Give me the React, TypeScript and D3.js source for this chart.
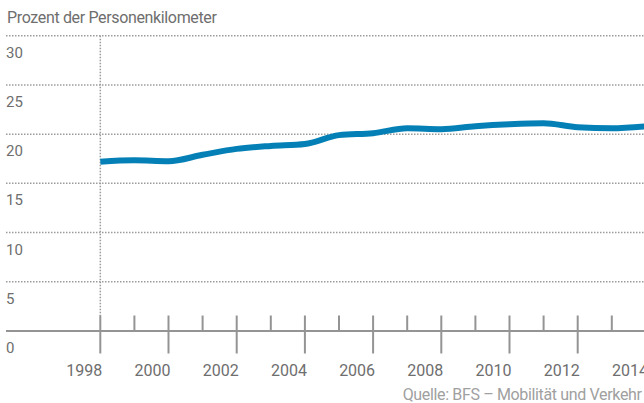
import React from "react";
import * as d3 from "d3";

// Anteil Personenkilometer, gelesen aus dem Bild
const years = [1998, 1999, 2000, 2001, 2002, 2003, 2004, 2005, 2006, 2007, 2008, 2009, 2010, 2011, 2012, 2013, 2014];
const values = [17.2, 17.35, 17.25, 17.9, 18.5, 18.8, 19.0, 19.9, 20.1, 20.6, 20.5, 20.8, 21.0, 21.1, 20.7, 20.6, 20.8];
const yTicks = [0, 5, 10, 15, 20, 25, 30];
const xLabelYears = [1998, 2000, 2002, 2004, 2006, 2008, 2010, 2012, 2014];

const W = 644;
const H = 403;
const FONT = "Roboto, 'Liberation Sans', sans-serif";

const App = () => {
  const x = d3.scaleLinear().domain([1998, 2014]).range([100.3, 100.3 + 16 * 34.1]);
  const y = d3.scaleLinear().domain([0, 30]).range([331, 35.7]);

  const data = years.map((yr, i) => ({ year: yr, value: values[i] }));
  const line = d3
    .line<{ year: number; value: number }>()
    .x((d) => x(d.year))
    .y((d) => y(d.value))
    .curve(d3.curveMonotoneX);

  const baseY = y(0);

  return (
    <svg
      width={W}
      height={H}
      style={{ position: "absolute", left: 0, top: 0, background: "#fff" }}
      fontFamily={FONT}
    >
      <text x={7} y={22.7} fontSize={16} fill="#6e6e6e" letterSpacing={-0.35}>
        Prozent der Personenkilometer
      </text>

      {/* gridlines */}
      {yTicks
        .filter((t) => t > 0)
        .map((t) => (
          <line
            key={"g" + t}
            x1={6}
            x2={W}
            y1={y(t)}
            y2={y(t)}
            stroke="#9c9c9c"
            strokeWidth={1.5}
            strokeDasharray="1.5,1.5"
          />
        ))}
      <line
        x1={x(1998)}
        x2={x(1998)}
        y1={y(30)}
        y2={baseY - 15}
        stroke="#9c9c9c"
        strokeWidth={1.5}
        strokeDasharray="1.5,1.5"
      />

      {yTicks.map((t) => (
        <text key={"yl" + t} x={6} y={y(t) + 22} fontSize={15} fill="#6e6e6e">
          {t}
        </text>
      ))}

      {/* x axis */}
      <line x1={6} x2={W} y1={baseY} y2={baseY} stroke="#949494" strokeWidth={2} />
      {years.map((yr) => {
        const even = yr % 2 === 0;
        return (
          <line
            key={"t" + yr}
            x1={x(yr)}
            x2={x(yr)}
            y1={baseY - 15.5}
            y2={even ? baseY + 22.5 : baseY}
            stroke="#949494"
            strokeWidth={2}
          />
        );
      })}
      {xLabelYears.map((yr) => (
        <text
          key={"xl" + yr}
          x={x(yr) + 2}
          y={376}
          fontSize={16}
          fill="#6e6e6e"
          textAnchor="end"
        >
          {yr}
        </text>
      ))}

      <path d={line(data) || ""} fill="none" stroke="#0580b6" strokeWidth={6} />

      <text x={402.7} y={400} fontSize={16} fill="#a0a0a0" letterSpacing={-0.35}>
        Quelle: BFS – Mobilität und Verkehr
      </text>
    </svg>
  );
};

export default App;
